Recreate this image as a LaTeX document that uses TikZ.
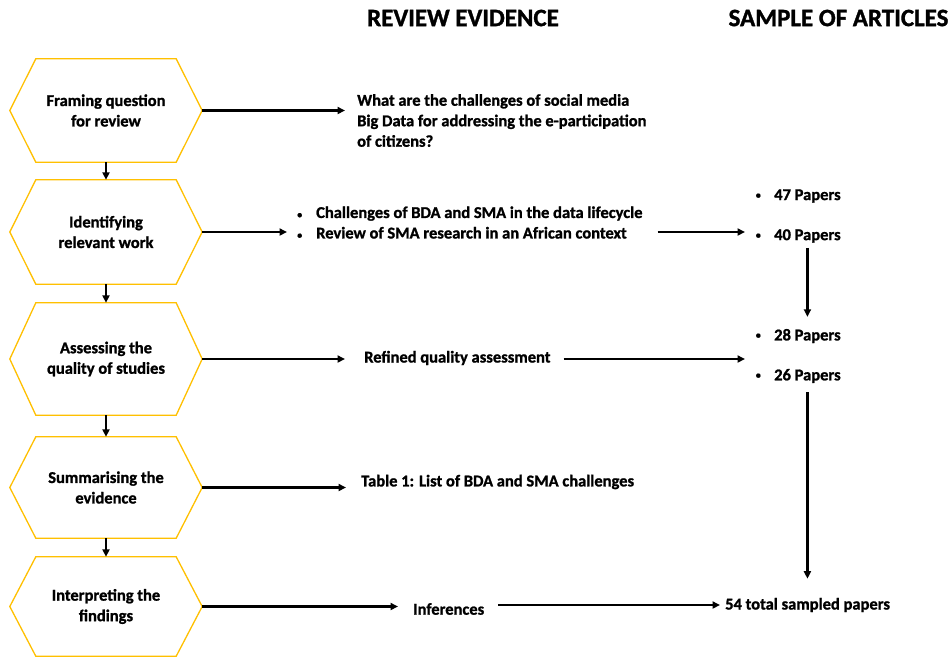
\documentclass[tikz,border=0pt]{standalone}
\usepackage{fontspec}
\setmainfont{Carlito}[BoldFeatures={FakeBold=1.2}]
\usetikzlibrary{calc,arrows.meta}
\definecolor{hexgold}{HTML}{FFC000}
\newcommand\drawhex[1]{\draw[hexline] (#1.west) -- ($(#1.north west)+(26,0)$) -- ($(#1.north east)+(-26,0)$) -- (#1.east) -- ($(#1.south east)+(-26,0)$) -- ($(#1.south west)+(26,0)$) -- cycle;}
\newcommand\smbul{{\fontsize{10}{10}\selectfont\textbullet}}
\begin{document}
\begin{tikzpicture}[x=1pt,y=-1pt,
  font=\fontsize{16.5}{20.5}\selectfont\bfseries,
  hexbox/.style={minimum width=192pt,minimum height=#1,inner sep=0pt,align=center},
  hexline/.style={draw=hexgold,line width=1.3pt,line join=miter},
  arr/.style={-{Triangle[length=7.5pt,width=7pt]},line width=2.2pt},
  txt/.style={inner sep=0pt,anchor=west,align=left},
  bul/.style={label={[inner sep=0pt,label distance=13pt]left:\smbul}},
  head/.style={inner sep=0pt,font=\fontsize{25}{28}\selectfont\bfseries}]
\useasboundingbox (0,0) rectangle (950,657);
\fill[white] (0,0) rectangle (950,657);

% headers
\node[head] (hd1) at (463,18) {REVIEW EVIDENCE};
\node[head] (hd2) at (838.5,18) {SAMPLE OF ARTICLES};

% hexagons
\node[hexbox=103pt] (h1) at (106,110.5) {Framing question\\for review};
\node[hexbox=104pt] (h2) at (106,232) {Identifying\\relevant work};
\node[hexbox=112pt] (h3) at (106,359) {Assessing the\\quality of studies};
\node[hexbox=101pt] (h4) at (106,487.5) {Summarising the\\evidence};
\node[hexbox=99pt] (h5) at (106,606.5) {Interpreting the\\findings};
\drawhex{h1}\drawhex{h2}\drawhex{h3}\drawhex{h4}\drawhex{h5}

\draw[arr] (h1) -- (h2);
\draw[arr] (h2) -- (h3);
\draw[arr] (h3) -- (h4);
\draw[arr] (h4) -- (h5);

% review evidence column
\node[txt] (q) at (357,120.5) {What are the challenges of social media\\Big Data for addressing the e-participation\\of citizens?};
\node[txt] (l2) at (316,222.5) {\llap{\smbul\hspace{14pt}}Challenges of BDA and SMA in the data lifecycle\\\llap{\smbul\hspace{14pt}}Review of SMA research in an African context};
\node[txt] (r3) at (364,358) {Refined quality assessment};
\node[txt] (r4) at (361,482) {Table 1: List of BDA and SMA challenges};
\node[txt] (r5) at (413,609) {Inferences};

% sample column
\node[txt,bul] (p47) at (774,196) {47 Papers};
\node[txt,bul] (p40) at (774,236) {40 Papers};
\node[txt,bul] (p28) at (774,336) {28 Papers};
\node[txt,bul] (p26) at (774,376) {26 Papers};
\node[txt] (tot) at (725,605) {54 total sampled papers};

% horizontal arrows
\draw[arr] (h1) -- ($(q.west |- h1)+(-12,0)$);
\draw[arr] (h2) -- ($(l2.west |- h2)+(-29,0)$);
\draw[arr] ($(l2.east |- h2)+(15,0)$) -- ($(p40.west |- h2)+(-29,0)$);
\draw[arr] (h3) -- ($(r3.west |- h3)+(-19,0)$);
\draw[arr] ($(r3.east |- h3)+(13,0)$) -- ($(p28.west |- h3)+(-29,0)$);
\draw[arr] (h4) -- ($(r4.west |- h4)+(-15,0)$);
\draw[arr] (h5) -- ($(r5.west |- h5)+(-15,0)$);
\draw[arr] ($(r5.east |- tot)+(14,0)$) -- ($(tot.west)+(-5,0)$);

% vertical arrows in sample column
\draw[arr,shorten <=5pt,shorten >=12pt] (p40.south) -- (p28.north);
\draw[arr,shorten <=9pt,shorten >=19pt] (p26.south) -- (p26.south |- tot.north);
\end{tikzpicture}
\end{document}
